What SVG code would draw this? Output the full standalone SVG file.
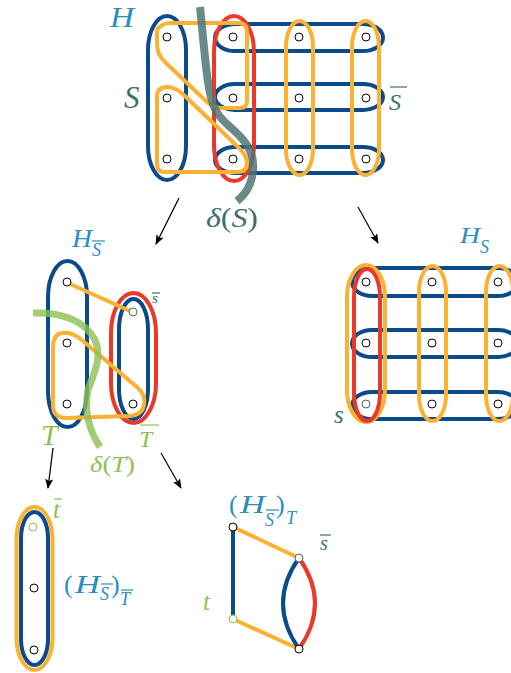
<svg xmlns="http://www.w3.org/2000/svg" width="511" height="673" viewBox="0 0 511 673">
<defs>
<style>
.b{fill:none;stroke:#0b4a8b;stroke-width:4}
.o{fill:none;stroke:#fbb131;stroke-width:4}
.r{fill:none;stroke:#ea3829;stroke-width:4}
.n{fill:#fff;stroke:#000;stroke-width:1}
.ng{fill:#fff;stroke:#8cc152;stroke-width:1}
.nt{fill:#fff;stroke:#3e6f6b;stroke-width:1}
.ar{stroke:#000;stroke-width:1.2;fill:none;marker-end:url(#ah)}
text{font-family:"Liberation Serif",serif}
.i{font-style:italic}
.lb{fill:#2a8fbf}
.tl{fill:#3e6f6b}
.gr{fill:#8cc152}
.barlb{stroke:#2a8fbf;stroke-width:1.2}
.bartl{stroke:#3e6f6b;stroke-width:1.2}
.bargr{stroke:#8cc152;stroke-width:1.2}
</style>
<marker id="ah" viewBox="0 0 10 8" refX="9" refY="4" markerWidth="10" markerHeight="8" markerUnits="userSpaceOnUse" orient="auto">
<path d="M0,0 L10,4 L0,8 L2,4 Z" fill="#000"/>
</marker>
</defs>

<g id="top-H">
<rect class="b" x="148" y="16" width="38" height="164" rx="19" ry="34"/>
<rect class="b" x="215" y="24" width="168" height="27" rx="20" ry="13.5"/>
<rect class="b" x="215" y="84" width="168" height="26" rx="20" ry="13"/>
<rect class="b" x="215" y="147" width="168" height="26" rx="20" ry="13"/>
<rect class="r" x="214" y="16" width="40" height="165" rx="20" ry="36"/>
<rect class="o" x="286" y="21" width="27" height="154" rx="13.5" ry="26"/>
<rect class="o" x="352" y="21" width="27" height="154" rx="13.5" ry="26"/>
<path class="o" d="M160,27 Q163,23 172,23 L238,23 Q247,23 247,32 L247,101 Q247,108 240,108 L221,108 Q213,108 205,100 L166,63 Q157,55 157,44 L157,33 Q157,28 160,27 Z"/>
<path class="o" d="M157,97 Q157,87 167,87 Q176,87 185,96 L238,147 Q247,155 247,163 Q247,172 238,172 L165,172 Q157,172 157,164 Z"/>
<path d="M200,7 C203,35 205,62 208,82 C211,102 214,113 228,125 C243,138 255,150 253,170 C252,185 246,194 237,201" fill="none" stroke="#4d7774" stroke-width="8" stroke-opacity="0.85"/>
<circle class="n" cx="167" cy="37" r="4"/><circle class="n" cx="167" cy="98" r="4"/><circle class="n" cx="167" cy="159" r="4"/>
<circle class="n" cx="233" cy="37" r="4"/><circle class="n" cx="233" cy="98" r="4"/><circle class="n" cx="233" cy="159" r="4"/>
<circle class="n" cx="299" cy="37" r="4"/><circle class="n" cx="299" cy="98" r="4"/><circle class="n" cx="299" cy="159" r="4"/>
<circle class="n" cx="366" cy="37" r="4"/><circle class="n" cx="366" cy="98" r="4"/><circle class="n" cx="366" cy="159" r="4"/>
<text class="i lb" x="110" y="27" font-size="30" textLength="24" lengthAdjust="spacingAndGlyphs">H</text>
<text class="i tl" x="124" y="108" font-size="31">S</text>
<text class="i tl" x="389" y="110" font-size="24">S</text>
<line class="bartl" x1="390" y1="87" x2="407" y2="87"/>
<text class="tl" x="206" y="227" font-size="27" textLength="52" lengthAdjust="spacingAndGlyphs"><tspan class="i">δ</tspan>(<tspan class="i">S</tspan>)</text>
</g>

<g id="mid-left">
<rect class="b" x="48" y="261" width="39" height="166" rx="19.5" ry="36"/>
<rect class="r" x="111" y="293" width="45" height="130" rx="22.5" ry="40"/>
<rect class="b" x="119" y="299" width="29" height="120" rx="14.5" ry="30"/>
<line class="o" x1="70" y1="284" x2="130" y2="311"/>
<path class="o" d="M53,348 Q53,334 62,333 Q72,331 83,341 L138,388 Q146,396 144,405 Q142,415 130,416 L66,418 Q53,418 53,405 Z"/>
<path d="M33,313 C60,312 85,320 95,340 C103,358 93,375 88,390 C84,410 89,430 100,447" fill="none" stroke="#8cc152" stroke-width="7" stroke-opacity="0.8"/>
<circle class="n" cx="67" cy="282" r="4"/><circle class="n" cx="67" cy="343" r="4"/><circle class="n" cx="67" cy="404" r="4"/>
<circle class="nt" cx="133" cy="312" r="4"/><circle class="n" cx="133" cy="404" r="4"/>
<text class="i lb" x="72" y="247" font-size="25" textLength="20" lengthAdjust="spacingAndGlyphs">H</text>
<text class="i lb" x="92" y="256" font-size="18">S</text>
<line class="barlb" x1="92" y1="241" x2="105" y2="241"/>
<text class="i tl" x="152" y="303" font-size="15">s</text>
<line class="bartl" x1="152" y1="293" x2="160" y2="293"/>
<text class="i gr" x="41" y="445" font-size="30">T</text>
<text class="i gr" x="139" y="447" font-size="24">T</text>
<line class="bargr" x1="140" y1="425" x2="159" y2="425"/>
<text class="gr" x="90" y="472" font-size="23" textLength="45" lengthAdjust="spacingAndGlyphs"><tspan class="i">δ</tspan>(<tspan class="i">T</tspan>)</text>
</g>

<g id="mid-right">
<rect class="b" x="352" y="268" width="166" height="28" rx="20" ry="14"/>
<rect class="b" x="352" y="330" width="166" height="27" rx="20" ry="13.5"/>
<rect class="b" x="352" y="392" width="166" height="27" rx="20" ry="13.5"/>
<rect class="o" x="347" y="265" width="38" height="157" rx="19" ry="32"/>
<rect class="r" x="354" y="269" width="26" height="152" rx="13" ry="28"/>
<rect class="o" x="419" y="266" width="27" height="155" rx="13.5" ry="26"/>
<rect class="o" x="486" y="266" width="27" height="155" rx="13.5" ry="26"/>
<circle class="n" cx="366" cy="282" r="4"/><circle class="n" cx="432" cy="282" r="4"/><circle class="n" cx="498" cy="282" r="4"/>
<circle class="n" cx="366" cy="343" r="4"/><circle class="n" cx="432" cy="343" r="4"/><circle class="n" cx="498" cy="343" r="4"/>
<circle class="nt" cx="366" cy="404" r="4"/><circle class="n" cx="432" cy="404" r="4"/><circle class="n" cx="498" cy="404" r="4"/>
<text class="i lb" x="460" y="243" font-size="24" textLength="20" lengthAdjust="spacingAndGlyphs">H</text>
<text class="i lb" x="480" y="253" font-size="18">S</text>
<text class="i tl" x="334" y="423" font-size="25">s</text>
</g>

<g id="bottom-left">
<rect class="o" x="16.5" y="507" width="36" height="163" rx="18" ry="32"/>
<rect class="b" x="21" y="512" width="27" height="153" rx="13.5" ry="26"/>
<circle class="ng" cx="33" cy="527" r="4"/><circle class="n" cx="34" cy="588" r="4"/><circle class="n" cx="34" cy="650" r="4"/>
<text class="i gr" x="53" y="518" font-size="25">t</text>
<line class="bargr" x1="54" y1="499" x2="62" y2="499"/>
<text class="lb" x="64" y="593" font-size="26">(</text>
<text class="i lb" x="75" y="593" font-size="26" textLength="25" lengthAdjust="spacingAndGlyphs">H</text>
<text class="i lb" x="100" y="600" font-size="18">S</text>
<text class="lb" x="111" y="593" font-size="26">)</text>
<text class="i lb" x="120" y="605" font-size="18">T</text>
<line class="barlb" x1="101" y1="584" x2="113" y2="584"/>
<line class="barlb" x1="121" y1="590" x2="133" y2="590"/>
</g>

<g id="bottom-right">
<line x1="233" y1="527" x2="233" y2="619" stroke="#0b4a8b" stroke-width="4"/>
<line class="o" x1="233" y1="527" x2="299" y2="558"/>
<line class="o" x1="233" y1="619" x2="299" y2="649"/>
<path class="b" d="M299,558 Q267,603 299,649"/>
<path class="r" d="M299,558 Q331,603 299,649"/>
<circle class="n" cx="233" cy="527" r="4"/>
<circle class="nt" cx="299" cy="558" r="4"/>
<circle class="ng" cx="233" cy="619" r="4"/>
<circle class="n" cx="299" cy="649" r="4"/>
<text class="lb" x="229" y="513" font-size="26">(</text>
<text class="i lb" x="240" y="513" font-size="26" textLength="25" lengthAdjust="spacingAndGlyphs">H</text>
<text class="i lb" x="265" y="526" font-size="18">S</text>
<text class="lb" x="276" y="513" font-size="26">)</text>
<text class="i lb" x="286" y="524" font-size="18">T</text>
<line class="barlb" x1="266" y1="510" x2="279" y2="510"/>
<text class="i tl" x="320" y="550" font-size="20">s</text>
<line class="bartl" x1="320" y1="535" x2="331" y2="535"/>
<text class="i gr" x="203" y="610" font-size="25">t</text>
</g>

<g id="connectors">
<line class="ar" x1="179" y1="198" x2="156" y2="244"/>
<line class="ar" x1="358" y1="207" x2="378" y2="243"/>
<line class="ar" x1="53" y1="448" x2="48" y2="488"/>
<line class="ar" x1="161" y1="453" x2="181" y2="488"/>
</g>
</svg>
